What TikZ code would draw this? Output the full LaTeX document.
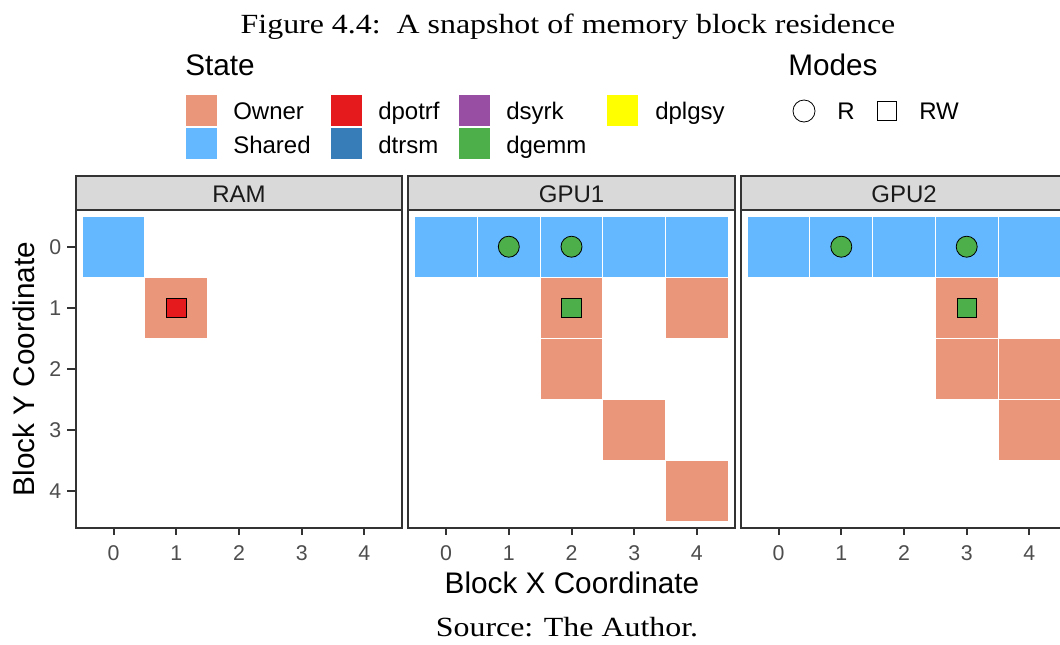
\documentclass[tikz,border=0pt]{standalone}
\usepackage{fontspec}
\setmainfont{Liberation Serif}
\setsansfont{Liberation Sans}

\definecolor{ownerc}{HTML}{E9967A}
\definecolor{sharedc}{HTML}{63B8FF}
\definecolor{potrfc}{HTML}{E41A1C}
\definecolor{trsmc}{HTML}{377EB8}
\definecolor{syrkc}{HTML}{984EA3}
\definecolor{gemmc}{HTML}{4DAF4A}
\definecolor{plgsyc}{HTML}{FFFF00}
\definecolor{framec}{HTML}{333333}
\definecolor{stripc}{HTML}{D9D9D9}
\definecolor{ticktext}{HTML}{4D4D4D}
\definecolor{striptext}{HTML}{1A1A1A}

\tikzset{
  serif text/.style={font=\fontsize{20.8}{24}\selectfont\rmfamily, inner sep=0pt, xscale=1.15, transform shape},
  big text/.style={font=\fontsize{22.3}{26}\selectfont\sffamily, inner sep=0pt},
  small text/.style={font=\fontsize{18}{21}\selectfont\sffamily, inner sep=0pt},
  tick text/.style={font=\fontsize{16}{19}\selectfont\sffamily, text=ticktext, inner sep=0pt},
  strip text/.style={font=\fontsize{18}{21}\selectfont\sffamily, text=striptext, inner sep=0pt},
  tile/.style={draw=white, line width=0.75pt},
  own/.style={tile, fill=ownerc},
  shr/.style={tile, fill=sharedc},
  frameline/.style={draw=framec, line width=1.5pt},
  tickline/.style={draw=framec, line width=1.5pt},
  rmark/.style={circle, draw=black, line width=0.6pt, minimum size=15.75pt, inner sep=0pt},
  rwmark/.style={rectangle, draw=black, line width=0.6pt, minimum size=14.5pt, inner sep=0pt},
  key/.style={rectangle, draw=white, line width=0.75pt, minimum width=24pt, minimum height=24pt, inner sep=0pt},
}

% one block of the matrix, centred on column #2, row #3
\newcommand\blk[3]{\filldraw[#1] (#2-0.5,#3-0.5) rectangle (#2+0.5,#3+0.5);}

% one facet: #1 = name, #2 = left edge (px), #3 = strip title
\newcommand\facetframe[3]{%
  \begin{scope}[shift={(#2+37.6,246.7)}, x=47.025pt, y=-45.86pt]
    \draw[frameline] (-0.6,-0.6) rectangle (4.6,4.6);
    \filldraw[frameline, fill=stripc] (-0.6,-0.6) rectangle (4.6,-1.156);
    \node[strip text, anchor=base] (#1-strip) at (2,-0.72) {#3};
    \foreach \i in {0,...,4} {
      \draw[tickline] (\i,4.6) -- (\i,4.715);
      \node[tick text, anchor=north] (#1-x\i) at (\i,4.88) {\i};
    }
  \end{scope}}

\begin{document}
\begin{tikzpicture}[x=0.75pt, y=-0.75pt]
  \useasboundingbox (0,0) rectangle (1060,644);
  \clip (0,0) rectangle (1060,644);

  % caption
  \node[serif text, anchor=base] (caption) at (568,33) {Figure 4.4:\ \ A snapshot of memory block residence};

  % legend: state
  \node[big text, anchor=base west] (state-title) at (185,75) {State};
  \node[key, fill=ownerc]  (k-owner)  at (201,110) {};
  \node[key, fill=sharedc] (k-shared) at (201,143) {};
  \node[key, fill=potrfc]  (k-potrf)  at (346,110) {};
  \node[key, fill=trsmc]   (k-trsm)   at (346,143) {};
  \node[key, fill=syrkc]   (k-syrk)   at (474,110) {};
  \node[key, fill=gemmc]   (k-gemm)   at (474,143) {};
  \node[key, fill=plgsyc]  (k-plgsy)  at (622,110) {};
  \node[small text, anchor=base west] (l-owner)  at (233,119) {Owner};
  \node[small text, anchor=base west] (l-shared) at (233,153) {Shared};
  \node[small text, anchor=base west] (l-potrf)  at (378,119) {dpotrf};
  \node[small text, anchor=base west] (l-trsm)   at (378,153) {dtrsm};
  \node[small text, anchor=base west] (l-syrk)   at (506,119) {dsyrk};
  \node[small text, anchor=base west] (l-gemm)   at (506,153) {dgemm};
  \node[small text, anchor=base west] (l-plgsy)  at (655,119) {dplgsy};

  % legend: modes
  \node[big text, anchor=base west] (modes-title) at (788,75) {Modes};
  \node[rmark, minimum size=16.5pt] (k-r) at (804,111) {};
  \node[small text, anchor=base west] (l-r) at (837,119) {R};
  \node[rwmark] (k-rw) at (887,111) {};
  \node[small text, anchor=base west] (l-rw) at (919,119) {RW};

  % RAM facet
  \begin{scope}[shift={(113.6,246.7)}, x=47.025pt, y=-45.86pt]
    \blk{shr}{0}{0}
    \blk{own}{1}{1}
    \node[rwmark, fill=potrfc] (ram-p11) at (1,1) {};
  \end{scope}
  \facetframe{ram}{76}{RAM}

  % GPU1 facet
  \begin{scope}[shift={(446.1,246.7)}, x=47.025pt, y=-45.86pt]
    \foreach \i in {0,...,4} {\blk{shr}{\i}{0}}
    \blk{own}{2}{1}
    \blk{own}{4}{1}
    \blk{own}{2}{2}
    \blk{own}{3}{3}
    \blk{own}{4}{4}
    \node[rmark, fill=gemmc]  (g1-p10) at (1,0) {};
    \node[rmark, fill=gemmc]  (g1-p20) at (2,0) {};
    \node[rwmark, fill=gemmc] (g1-p21) at (2,1) {};
  \end{scope}
  \facetframe{gpua}{408.5}{GPU1}

  % GPU2 facet
  \begin{scope}[shift={(778.6,246.7)}, x=47.025pt, y=-45.86pt]
    \foreach \i in {0,...,4} {\blk{shr}{\i}{0}}
    \blk{own}{3}{1}
    \blk{own}{3}{2}
    \blk{own}{4}{2}
    \blk{own}{4}{3}
    \node[rmark, fill=gemmc]  (g2-p10) at (1,0) {};
    \node[rmark, fill=gemmc]  (g2-p30) at (3,0) {};
    \node[rwmark, fill=gemmc] (g2-p31) at (3,1) {};
  \end{scope}
  \facetframe{gpub}{741}{GPU2}

  % y axis of the first facet
  \begin{scope}[shift={(113.6,246.7)}, x=47.025pt, y=-45.86pt]
    \foreach \j in {0,...,4} {
      \draw[tickline] (-0.6,\j) -- (-0.74,\j);
      \node[tick text, anchor=east] (ram-y\j) at (-0.83,\j) {\j};
    }
  \end{scope}

  % axis titles
  \node[big text, anchor=base] (xtitle) at (572,593) {Block X Coordinate};
  \node[big text, anchor=base, rotate=90] (ytitle) at (34,369) {Block Y Coordinate};

  % source line
  \node[serif text, anchor=base] (source) at (567,636) {Source: The Author.};
\end{tikzpicture}
\end{document}
